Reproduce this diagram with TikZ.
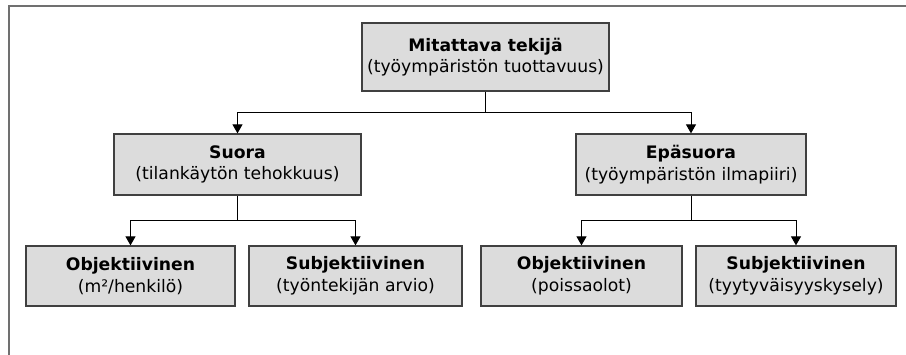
\documentclass[tikz,border=0pt]{standalone}
\usepackage{fontspec}
\setmainfont{DejaVu Sans}
\usetikzlibrary{arrows.meta}
\definecolor{boxfill}{HTML}{DCDCDC}
\definecolor{boxline}{HTML}{404040}
\definecolor{framegray}{HTML}{707070}
\tikzset{
  box/.style={draw=boxline, line width=1.3pt, fill=boxfill, rectangle,
    align=center, inner sep=0pt, minimum height=61pt,
    font=\fontsize{17.2}{21.5}\selectfont},
  link/.style={draw=black, line width=1pt},
  arr/.style={link, -{Triangle[width=10pt,length=9pt]}},
}
\begin{document}
\begin{tikzpicture}[x=1pt,y=-1pt]
  \useasboundingbox (0,0) rectangle (906,355);
  % open frame: top and left edges
  \draw[framegray, line width=2pt] (906,6) -- (8.5,6) -- (8.5,355);

  % boxes
  \node[box, minimum width=247pt, minimum height=68pt] (top) at (485.5,57)
    {\textbf{Mitattava tekijä}\\(työympäristön tuottavuus)};
  \node[box, minimum width=247pt] (suora) at (237.5,164.5)
    {\textbf{Suora}\\(tilankäytön tehokkuus)};
  \node[box, minimum width=230pt] (epa) at (691,164.5)
    {\textbf{Epäsuora}\\(työympäristön ilmapiiri)};
  \node[box, minimum width=209pt, minimum height=60pt] (obj1) at (130.5,276)
    {\textbf{Objektiivinen}\\(m²/henkilö)};
  \node[box, minimum width=213pt, minimum height=60pt] (subj1) at (355.5,276)
    {\textbf{Subjektiivinen}\\(työntekijän arvio)};
  \node[box, minimum width=201pt, minimum height=60pt] (obj2) at (581.5,276)
    {\textbf{Objektiivinen}\\(poissaolot)};
  \node[box, minimum width=200pt, minimum height=60pt] (subj2) at (796,276)
    {\textbf{Subjektiivinen}\\(tyytyväisyyskysely)};

  % junction points of the branch lines
  \coordinate (j0) at (485.5,113);
  \coordinate (j1) at (237.5,221);
  \coordinate (j2) at (691,221);

  % connectors
  \draw[link] (top.south) -- (j0);
  \draw[arr] (j0) -| (suora.north);
  \draw[arr] (j0) -| (epa.north);

  \draw[link] (suora.south) -- (j1);
  \draw[arr] (j1) -| (obj1.north);
  \draw[arr] (j1) -| (subj1.north);

  \draw[link] (epa.south) -- (j2);
  \draw[arr] (j2) -| (obj2.north);
  \draw[arr] (j2) -| (subj2.north);
\end{tikzpicture}
\end{document}
